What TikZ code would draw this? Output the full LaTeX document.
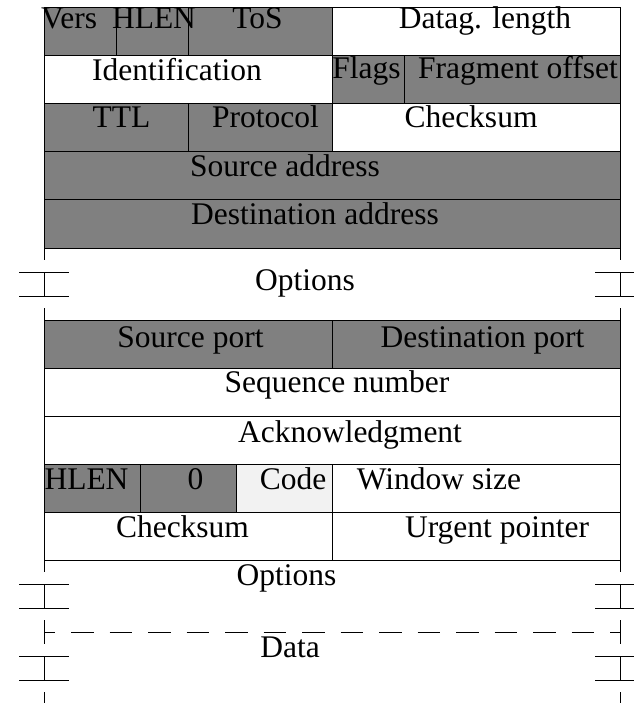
\documentclass[tikz,border=0pt]{standalone}
\usepackage{fontspec}
\setmainfont{Liberation Serif}
\tikzset{
  fld/.style={draw=black, line width=1pt},
  gfld/.style={fld, fill=gray},
  wfld/.style={fld, fill=white},
  lfld/.style={fld, fill=gray!10},
  lbl/.style={anchor=base, inner sep=0pt, font=\fontsize{31.5}{36}\selectfont},
  edgeline/.style={line width=1pt},
  brk/.pic={
    \draw[edgeline] (0,0) -- (0,12);
    \draw[edgeline] (-25,24) -- (25,24);
    \draw[edgeline] (0,24) -- (0,48);
    \draw[edgeline] (-25,48) -- (25,48);
    \draw[edgeline] (0,60) -- (0,72);
  }
}
\begin{document}
\begin{tikzpicture}[x=1pt,y=-1pt]
\useasboundingbox (0,0) rectangle (633,703);
% ---------- IP header ----------
\draw[gfld] (44,8) rectangle (116,56);
\draw[gfld] (116,8) rectangle (188,56);
\draw[gfld] (188,8) rectangle (332,56);
\draw[wfld] (332,8) rectangle (620,56);
\draw[wfld] (44,56) rectangle (332,104);
\draw[gfld] (332,56) rectangle (404,104);
\draw[gfld] (404,56) rectangle (620,104);
\draw[gfld] (44,104) rectangle (188,152);
\draw[gfld] (188,104) rectangle (332,152);
\draw[wfld] (332,104) rectangle (620,152);
\draw[gfld] (44,152) rectangle (620,200);
\draw[gfld] (44,200) rectangle (620,248);
\pic at (44,248) {brk};
\pic at (620,248) {brk};
% ---------- TCP header ----------
\draw[gfld] (44,320) rectangle (332,368);
\draw[gfld] (332,320) rectangle (620,368);
\draw[wfld] (44,368) rectangle (620,416);
\draw[wfld] (44,416) rectangle (620,464);
\draw[gfld] (44,464) rectangle (140,512);
\draw[gfld] (140,464) rectangle (236,512);
\draw[lfld] (236,464) rectangle (332,512);
\draw[wfld] (332,464) rectangle (620,512);
\draw[wfld] (44,512) rectangle (332,560);
\draw[wfld] (332,512) rectangle (620,560);
\pic at (44,560) {brk};
\pic at (620,560) {brk};
\pic at (44,632) {brk};
\pic at (620,632) {brk};
\coordinate (dl) at (44,632);
\coordinate (dr) at (620,632);
\draw[edgeline, dash pattern=on 22.5pt off 16pt, dash phase=11.5pt] (dl) -- (dr);
% ---------- labels ----------
\node[lbl] (vers) at (69,29) {Vers};
\node[lbl] (hlenip) at (154,29) {HLEN};
\node[lbl] (tos) at (257.5,29) {ToS};
\node[lbl] (dlen) at (485,29) {Datag. length};
\node[lbl] (ident) at (177,81) {Identification};
\node[lbl] (flags) at (366.5,79) {Flags};
\node[lbl] (frag) at (518,79) {Fragment offset};
\node[lbl] (ttl) at (121.5,128) {TTL};
\node[lbl] (proto) at (265.5,128) {Protocol};
\node[lbl] (ipsum) at (471,128) {Checksum};
\node[lbl] (srcaddr) at (285,177) {Source address};
\node[lbl] (dstaddr) at (315,225) {Destination address};
\node[lbl] (ipopt) at (305,290) {Options};
\node[lbl] (sport) at (190.5,347) {Source port};
\node[lbl] (dport) at (482.5,347) {Destination port};
\node[lbl] (seq) at (337,392) {Sequence number};
\node[lbl] (ack) at (350,442) {Acknowledgment};
\node[lbl] (hlentcp) at (86.5,489) {HLEN};
\node[lbl] (zero) at (195.5,489) {0};
\node[lbl] (code) at (293,489) {Code};
\node[lbl] (win) at (439,489) {Window size};
\node[lbl] (tcpsum) at (182.5,537) {Checksum};
\node[lbl] (urg) at (497,537) {Urgent pointer};
\node[lbl] (tcpopt) at (286.5,585) {Options};
\node[lbl] (data) at (290,657) {Data};
\end{tikzpicture}
\end{document}
